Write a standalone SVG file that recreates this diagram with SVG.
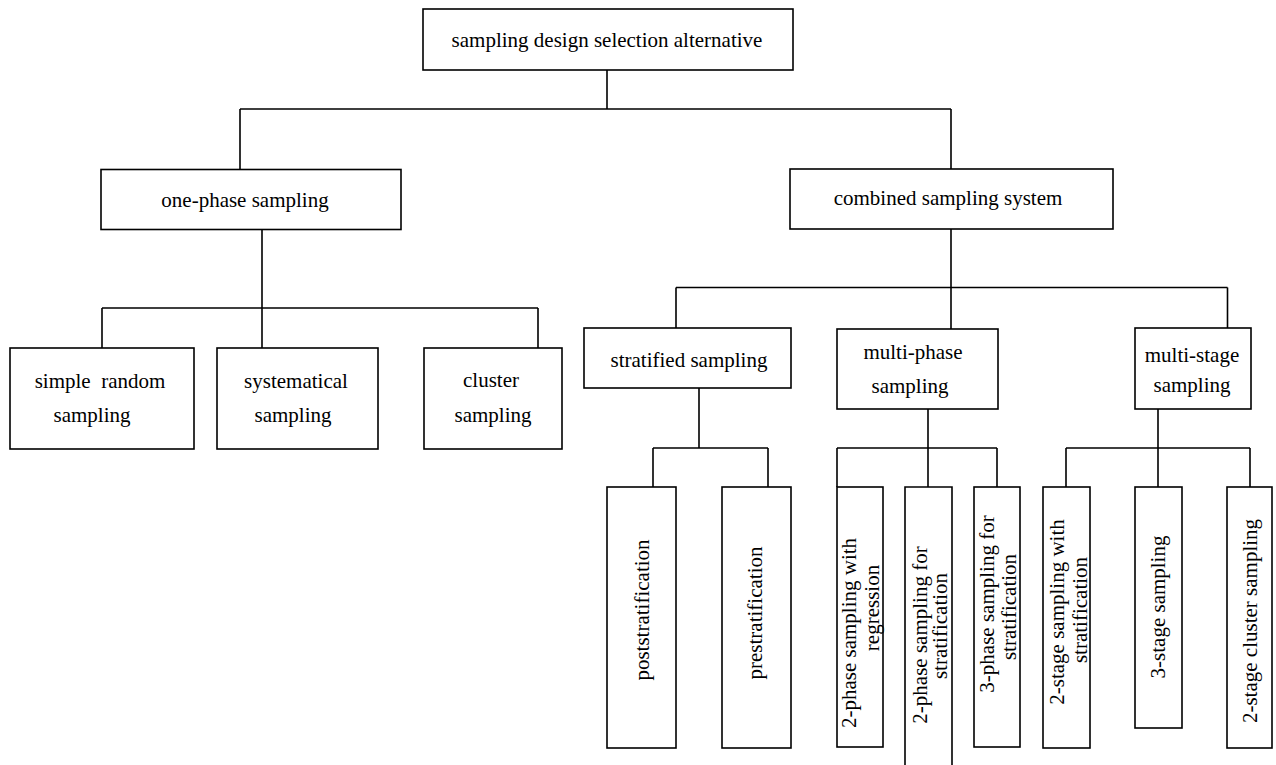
<svg xmlns="http://www.w3.org/2000/svg" width="1276" height="765" viewBox="0 0 1276 765">
<style>
.box{fill:#fff;stroke:#000;stroke-width:1.6}
.t{font-family:"Liberation Serif","Times New Roman",serif;font-size:21px;fill:#000;text-anchor:middle}
.c{fill:none;stroke:#000;stroke-width:1.6}
</style>
<rect width="1276" height="765" fill="#fff"/>
<g id="connectors" class="c">
<path d="M607,70V109M240,109H951M240,109V169M951,109V169"/>
<path d="M262,229.5V348M102,308H538M102,308V348M538,308V348"/>
<path d="M951,229V329M676,287.5H1227.5M676,287.5V328M1227.5,287.5V328"/>
<path d="M699,388V448M653,448H768M653,448V487M768,448V487"/>
<path d="M928,409V487M837,448H997M837,448V487M997,448V487"/>
<path d="M1158,409V487M1066,448H1250M1066,448V487M1250,448V487"/>
</g>
<g id="root"><rect class="box" x="423" y="9" width="370" height="61"/><text class="t" x="607" y="47">sampling design selection alternative</text></g>
<g id="one-phase"><rect class="box" x="101" y="169.5" width="300" height="60"/><text class="t" x="245" y="206.5">one-phase sampling</text></g>
<g id="combined"><rect class="box" x="790" y="169" width="323" height="60"/><text class="t" x="948" y="205">combined sampling system</text></g>
<g id="simple-random"><rect class="box" x="10" y="348" width="184" height="101"/><text class="t" x="100" y="388" xml:space="preserve">simple  random</text><text class="t" x="92" y="422">sampling</text></g>
<g id="systematical"><rect class="box" x="217" y="348" width="161" height="101"/><text class="t" x="296" y="388">systematical</text><text class="t" x="293" y="422">sampling</text></g>
<g id="cluster"><rect class="box" x="424" y="348" width="138" height="101"/><text class="t" x="491" y="387">cluster</text><text class="t" x="493" y="422">sampling</text></g>
<g id="stratified"><rect class="box" x="584" y="328" width="207" height="60"/><text class="t" x="689" y="367">stratified sampling</text></g>
<g id="multi-phase"><rect class="box" x="837" y="329" width="161" height="80"/><text class="t" x="913" y="359">multi-phase</text><text class="t" x="910" y="393">sampling</text></g>
<g id="multi-stage"><rect class="box" x="1135" y="328" width="116" height="81"/><text class="t" x="1192" y="362">multi-stage</text><text class="t" x="1192" y="392">sampling</text></g>
<g id="poststratification"><rect class="box" x="607" y="487" width="69" height="261"/><text class="t" transform="translate(649,610) rotate(-90)">poststratification</text></g>
<g id="prestratification"><rect class="box" x="722" y="487" width="69" height="261"/><text class="t" transform="translate(762,613) rotate(-90)">prestratification</text></g>
<g id="two-phase-regression"><rect class="box" x="837" y="487" width="46" height="260"/><text class="t" transform="translate(856,633) rotate(-90)">2-phase sampling with</text><text class="t" transform="translate(879,608) rotate(-90)">regression</text></g>
<g id="two-phase-stratification"><path class="box" d="M905,770V487H952V770"/><text class="t" transform="translate(927,635) rotate(-90)">2-phase sampling for</text><text class="t" transform="translate(947,626) rotate(-90)">stratification</text></g>
<g id="three-phase-stratification"><rect class="box" x="974" y="487" width="46" height="260"/><text class="t" transform="translate(994,604) rotate(-90)">3-phase sampling for</text><text class="t" transform="translate(1016,607) rotate(-90)">stratification</text></g>
<g id="two-stage-stratification"><rect class="box" x="1043" y="487" width="47" height="261"/><text class="t" transform="translate(1064,612) rotate(-90)">2-stage sampling with</text><text class="t" transform="translate(1087,610) rotate(-90)">stratification</text></g>
<g id="three-stage"><rect class="box" x="1135" y="487" width="47" height="241"/><text class="t" transform="translate(1165,607) rotate(-90)">3-stage sampling</text></g>
<g id="two-stage-cluster"><rect class="box" x="1227" y="487" width="45" height="261"/><text class="t" transform="translate(1257,621) rotate(-90)">2-stage cluster sampling</text></g>
</svg>
